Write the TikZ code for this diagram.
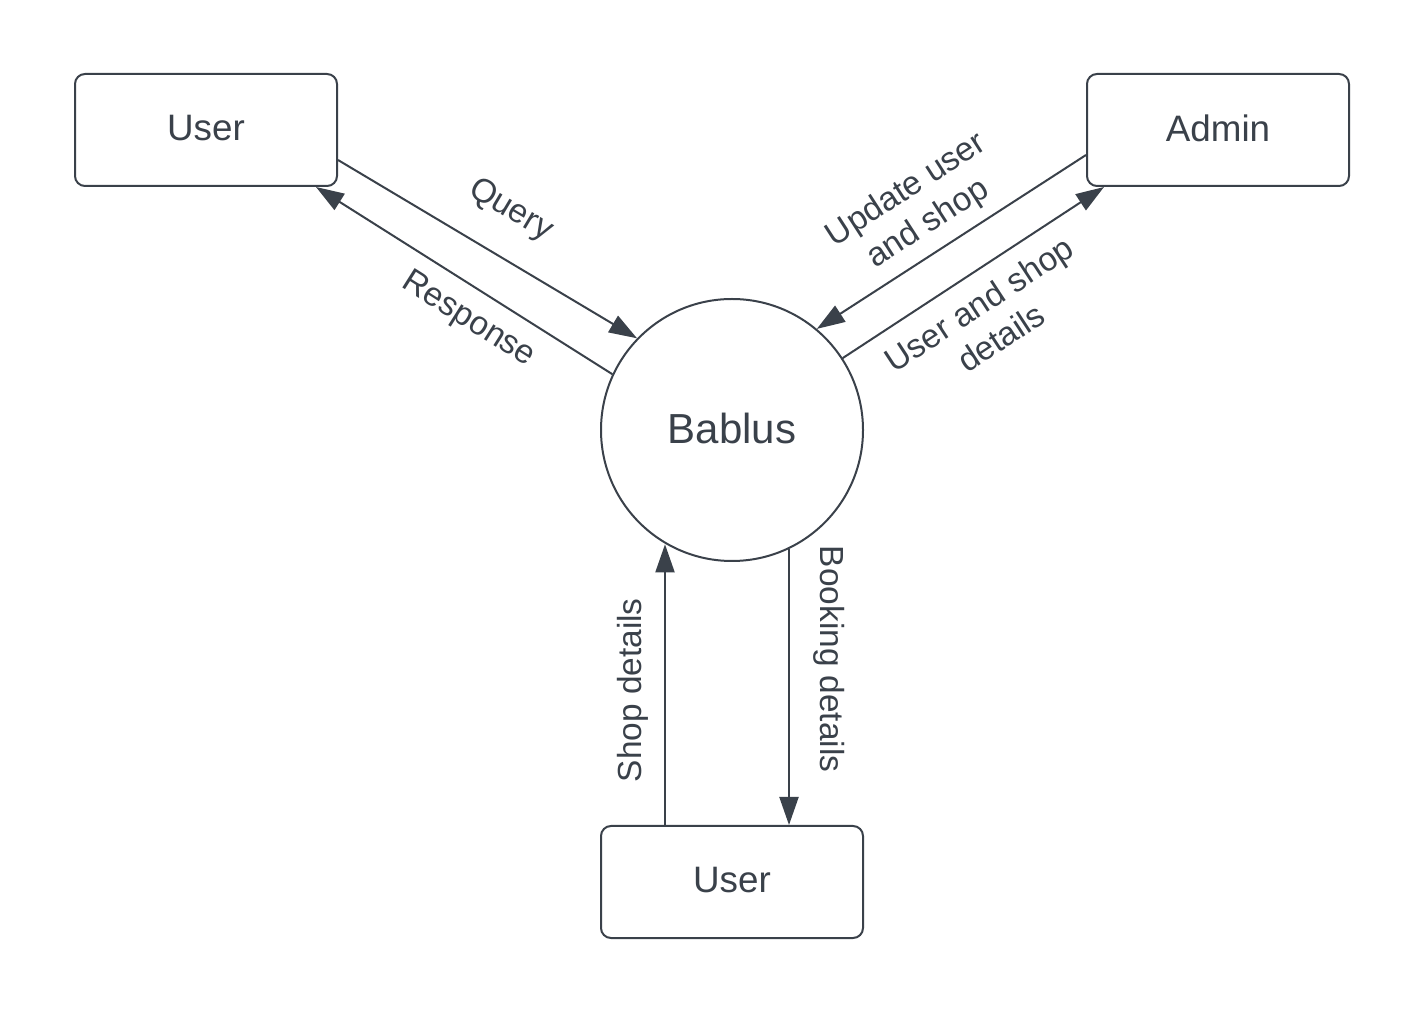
\documentclass[tikz,border=0pt]{standalone}
\usepackage{fontspec}
\setmainfont{Liberation Sans}
\usetikzlibrary{arrows.meta, positioning}
\definecolor{inkgray}{RGB}{58,65,74}

\tikzset{
    entity/.style={draw=inkgray, line width=1pt, rounded corners=5pt,
        minimum width=131pt, minimum height=56pt, inner sep=0pt, text depth=0.2em,
        text=inkgray, font=\fontsize{18.4}{22}\selectfont},
    process/.style={circle, draw=inkgray, line width=1pt, minimum size=131pt,
        inner sep=0pt, text depth=0.2em, text=inkgray, font=\fontsize{21}{25}\selectfont},
    flow/.style={color=inkgray, line width=1pt, -{Triangle[length=14pt, width=9.5pt]}},
    flowlabel/.style={sloped, inner sep=0pt, text=inkgray, align=center,
        font=\fontsize{16.7}{20}\selectfont},
}

\begin{document}
\begin{tikzpicture}
        \useasboundingbox (0,0) rectangle (712.5pt,506.5pt);

        % Draw the process and the entities
        \node[process] (bablus) at (366pt,291.5pt) {Bablus};
        \node[entity, above left=121.5pt and 197pt of bablus.center]  (user)  {User};
        \node[entity, above right=121.5pt and 177pt of bablus.center] (admin) {Admin};
        \node[entity, below=131.5pt of bablus]                        (user2) {User};

        \coordinate (shopfoot) at ([xshift=-33.5pt]user2.north);
        \coordinate (bookhead) at ([xshift=28.5pt]user2.north);

        % Connect them with the data flows
        \path[flow]
            ([yshift=-15pt]user.east) edge node[flowlabel, pos=0.5, above=14.5pt] {Query} (bablus.136.8)
            (bablus.155) edge node[flowlabel, pos=0.43, below=7.5pt] {Response} ([xshift=55pt]user.south)

            ([yshift=-12.5pt]admin.west) edge node[flowlabel, pos=0.53, above=5.5pt] {Update user\\and shop} (bablus.50)
            (bablus.33.3) edge node[flowlabel, pos=0.46, below=8pt] {User and shop\\details} ([xshift=-57pt]admin.south)

            (shopfoot) edge node[flowlabel, pos=0.48, above=7.8pt] {Shop details} (shopfoot |- bablus.-120.5)
            (bookhead |- bablus.-64.5) edge node[flowlabel, pos=0.4, above=12pt] {Booking details} (bookhead);
\end{tikzpicture}
\end{document}
